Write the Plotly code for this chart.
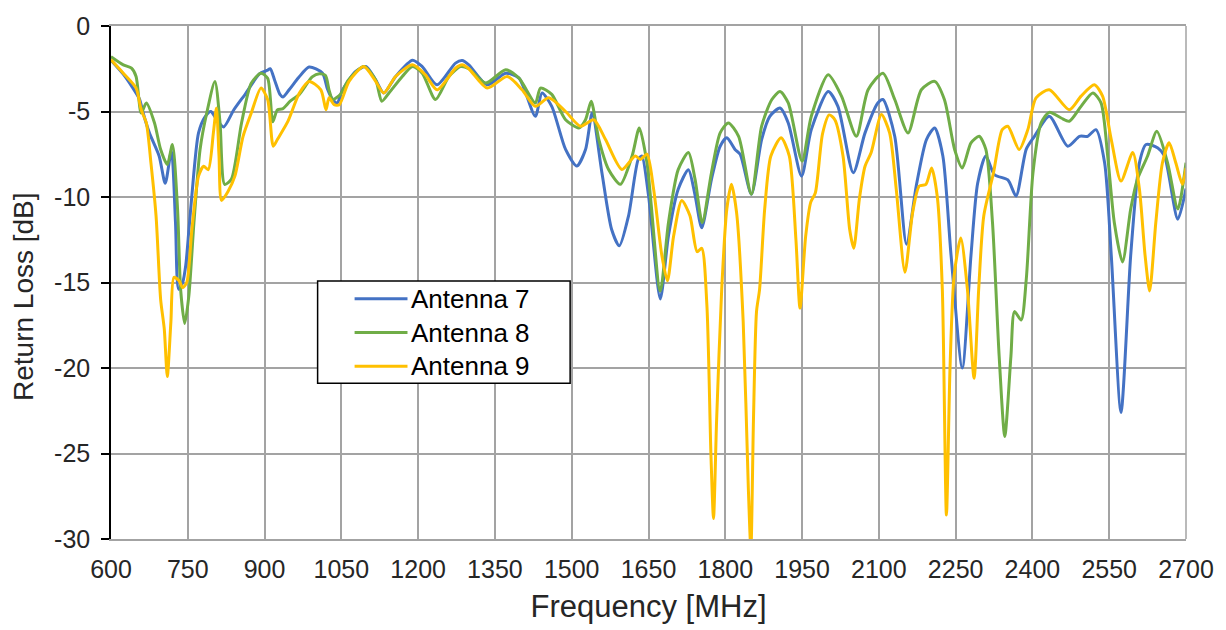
import plotly.graph_objects as go

# ---------------- data ----------------
series_names = ["Antenna 7", "Antenna 8", "Antenna 9"]
series_colors = ["#4472C4", "#70AD47", "#FFC000"]

freq_ant7 = [600, 625, 640, 656, 662, 675, 694, 706, 718, 726, 732, 740, 746, 752, 758, 771, 784, 795, 805,
             820, 840, 863, 890, 905, 911, 920, 930, 936, 948, 967, 987, 1013, 1023, 1033, 1042, 1052,
             1078, 1098, 1117, 1133, 1156, 1189, 1208, 1237, 1273, 1286, 1299, 1335, 1371, 1397, 1429,
             1442, 1461, 1488, 1510, 1527, 1540, 1559, 1578, 1593, 1611, 1630, 1637, 1650, 1673, 1689,
             1708, 1728, 1741, 1754, 1773, 1790, 1803, 1819, 1829, 1851, 1871, 1887, 1907, 1923, 1949,
             1968, 2001, 2020, 2050, 2073, 2098, 2108, 2131, 2154, 2173, 2193, 2209, 2225, 2241, 2263,
             2280, 2293, 2309, 2326, 2352, 2368, 2388, 2404, 2433, 2469, 2492, 2508, 2524, 2541, 2554,
             2573, 2592, 2609, 2622, 2645, 2658, 2684, 2700]
rl_ant7 = [-2.0, -2.85, -3.5, -4.3, -5.0, -6.25, -7.6, -9.2, -7.3, -11.5, -15.4, -15.0, -14.0, -12.0, -9.9,
           -6.25, -5.3, -5.0, -5.4, -5.9, -4.9, -3.95, -2.8, -2.6, -2.5, -3.2, -4.0, -4.15, -3.73, -3.0,
           -2.4, -2.75, -3.7, -4.3, -4.5, -3.75, -2.66, -2.37, -3.15, -3.92, -2.95, -2.0, -2.37, -3.44,
           -2.17, -2.02, -2.27, -3.44, -2.76, -3.05, -5.28, -3.92, -4.7, -7.22, -8.19, -7.22, -5.09,
           -8.58, -11.9, -12.85, -11.1, -7.8, -7.6, -9.9, -15.96, -12.27, -9.55, -8.4, -9.9, -11.8,
           -8.97, -7.03, -6.54, -7.22, -7.5, -9.84, -6.64, -5.28, -4.8, -5.67, -8.78, -6.06, -3.83,
           -4.7, -8.58, -6.25, -4.5, -4.3, -6.45, -12.76, -9.36, -6.64, -5.96, -7.6, -13.4, -20.0,
           -13.4, -9.2, -7.6, -8.7, -9.0, -9.94, -7.2, -6.45, -5.28, -7.03, -6.45, -6.45, -6.06, -8.0,
           -13.4, -22.6, -13.4, -8.0, -6.93, -7.13, -7.6, -11.3, -9.5]

freq_ant8 = [600, 624, 640, 649, 659, 669, 685, 697, 710, 720, 730, 736, 744, 752, 762, 774, 787, 803, 813,
             822, 835, 855, 874, 893, 906, 916, 925, 935, 950, 968, 993, 1007, 1019, 1026, 1033, 1048,
             1064, 1094, 1117, 1129, 1143, 1169, 1189, 1208, 1234, 1260, 1283, 1299, 1332, 1371, 1397,
             1429, 1439, 1461, 1488, 1514, 1527, 1538, 1553, 1572, 1595, 1618, 1632, 1647, 1673, 1689,
             1708, 1728, 1741, 1755, 1773, 1790, 1806, 1826, 1851, 1871, 1891, 1907, 1923, 1950, 1968,
             2001, 2027, 2056, 2079, 2108, 2131, 2157, 2183, 2209, 2228, 2248, 2263, 2280, 2296, 2309,
             2322, 2335, 2346, 2358, 2365, 2378, 2388, 2401, 2417, 2433, 2456, 2472, 2495, 2518, 2534,
             2547, 2560, 2576, 2592, 2605, 2625, 2643, 2664, 2684, 2700]
rl_ant8 = [-1.79, -2.27, -2.47, -2.95, -5.09, -4.5, -5.67, -7.22, -8.1, -6.93, -10.7, -15.4, -17.4, -15.8,
           -11.5, -7.22, -5.09, -3.24, -5.67, -9.26, -8.97, -5.67, -3.34, -2.76, -3.05, -5.6, -4.9,
           -4.85, -4.4, -4.0, -2.98, -2.79, -2.9, -3.75, -4.3, -4.0, -3.15, -2.37, -3.15, -4.4, -3.92,
           -2.95, -2.37, -2.76, -4.3, -2.95, -2.37, -2.5, -3.34, -2.56, -3.05, -4.5, -3.63, -4.0,
           -5.48, -5.96, -5.48, -4.4, -6.64, -8.39, -9.26, -7.6, -5.96, -8.0, -15.5, -11.5, -8.4,
           -7.4, -8.97, -11.5, -8.58, -6.25, -5.67, -6.45, -9.84, -5.86, -4.3, -3.83, -4.5, -7.9,
           -5.28, -2.85, -4.1, -6.45, -3.73, -2.76, -4.3, -6.25, -3.73, -3.24, -4.3, -7.22, -8.3,
           -6.83, -6.45, -7.22, -11.5, -19.3, -24.0, -19.3, -16.7, -17.2, -14.8, -8.6, -5.67, -5.05,
           -5.38, -5.57, -4.7, -3.92, -4.5, -7.6, -11.5, -13.8, -10.7, -8.97, -7.6, -6.16, -8.0,
           -10.7, -8.0]

freq_ant9 = [600, 624, 649, 659, 669, 678, 688, 697, 704, 710, 717, 723, 733, 740, 748, 758, 771, 781, 790,
             800, 806, 811, 816, 829, 842, 858, 874, 893, 906, 917, 925, 946, 968, 987, 1010, 1020, 1026,
             1036, 1046, 1065, 1094, 1117, 1133, 1156, 1189, 1214, 1237, 1273, 1286, 1299, 1335, 1374,
             1403, 1429, 1455, 1488, 1517, 1543, 1566, 1598, 1624, 1634, 1647, 1660, 1676, 1687, 1699,
             1715, 1731, 1745, 1754, 1764, 1772, 1777, 1783, 1793, 1803, 1812, 1822, 1835, 1845, 1850,
             1855, 1861, 1867, 1877, 1889, 1909, 1925, 1938, 1946, 1957, 1967, 1976, 1990, 2003, 2014,
             2030, 2043, 2051, 2062, 2073, 2085, 2105, 2121, 2134, 2151, 2166, 2179, 2192, 2203, 2214,
             2224, 2232, 2239, 2247, 2260, 2273, 2286, 2295, 2305, 2324, 2341, 2352, 2374, 2391, 2407,
             2433, 2472, 2495, 2521, 2537, 2554, 2573, 2596, 2609, 2620, 2629, 2641, 2654, 2667, 2680,
             2693, 2700]
rl_ant9 = [-1.98, -2.76, -3.63, -4.9, -5.67, -8.0, -11.1, -16.0, -17.7, -20.5, -17.3, -14.7, -14.9, -15.3,
           -15.0, -11.9, -8.78, -8.2, -8.4, -6.25, -4.8, -7.6, -10.2, -9.65, -8.78, -6.45, -5.09, -3.63,
           -4.3, -7.03, -6.64, -5.55, -3.92, -3.24, -3.73, -4.9, -4.2, -4.6, -4.6, -3.24, -2.37, -3.24,
           -3.92, -2.95, -2.27, -2.85, -3.73, -2.47, -2.27, -2.5, -3.63, -2.95, -3.73, -4.7, -4.2,
           -5.0, -5.86, -5.48, -6.64, -8.39, -7.6, -7.8, -7.5, -9.55, -13.4, -14.9, -12.3, -10.2,
           -11.1, -13.2, -13.0, -16.3, -25.1, -28.8, -23.1, -15.4, -10.7, -9.26, -10.9, -17.3, -27.0,
           -30.6, -23.1, -16.7, -15.4, -10.7, -7.6, -6.54, -7.6, -12.5, -16.5, -12.3, -10.3, -9.75,
           -6.3, -5.2, -5.48, -7.6, -11.9, -13.0, -10.1, -8.2, -7.4, -5.18, -6.25, -9.55, -14.4, -10.9,
           -9.36, -9.26, -8.3, -9.94, -15.4, -28.6, -20.0, -14.6, -12.4, -15.4, -20.6, -15.4, -11.1,
           -8.58, -6.06, -5.86, -7.22, -6.06, -4.2, -3.73, -4.9, -4.1, -3.44, -4.1, -6.64, -9.07, -7.4,
           -9.55, -13.4, -15.5, -11.5, -8.0, -6.83, -8.0, -9.26, -8.3]

x_tick_vals = [600, 750, 900, 1050, 1200, 1350, 1500, 1650, 1800, 1950, 2100, 2250, 2400, 2550, 2700]
y_tick_vals = [0, -5, -10, -15, -20, -25, -30]
y_tick_text = ["0", "-5", "-10", "-15", "-20", "-25", "-30"]

x_title = "Frequency [MHz]"
y_title = "Return Loss [dB]"

# ---------------- figure ----------------
FONT = "Liberation Sans, Arial, sans-serif"
TEXT = "#262626"
GRID = "#a3a3a3"

fig = go.Figure()
all_freqs = [freq_ant7, freq_ant8, freq_ant9]
all_rl = [rl_ant7, rl_ant8, rl_ant9]
for name, color, fx, ry in zip(series_names, series_colors, all_freqs, all_rl):
    fig.add_trace(go.Scatter(
        x=fx, y=ry, mode="lines", name=name,
        line=dict(color=color, width=3, shape="spline", smoothing=0.7),
        showlegend=False,
    ))

fig.update_layout(
    width=1226, height=630,
    margin=dict(l=111, r=38, t=22, b=91),
    paper_bgcolor="white", plot_bgcolor="white",
    font=dict(family=FONT, color=TEXT, size=25),
    xaxis=dict(
        range=[600, 2700], tickmode="array", tickvals=x_tick_vals,
        showgrid=True, gridcolor=GRID, gridwidth=1.5,
        showline=True, linecolor=GRID, linewidth=1.5, mirror=True,
        ticks="", zeroline=False,
        tickfont=dict(size=25, family=FONT, color=TEXT),
        ticklabelstandoff=7,
        title=dict(text=x_title, font=dict(size=31, family=FONT, color=TEXT), standoff=14),
    ),
    yaxis=dict(
        range=[-30, 0], tickmode="array", tickvals=y_tick_vals, ticktext=y_tick_text,
        showgrid=True, gridcolor=GRID, gridwidth=1.5,
        showline=True, linecolor="#000000", linewidth=1.5,
        ticks="outside", ticklen=8, tickwidth=1.5, tickcolor="#000000",
        zeroline=False,
        tickfont=dict(size=25, family=FONT, color=TEXT),
        ticklabelstandoff=6,
    ),
)

# y-axis title, placed where the reference has it
fig.add_annotation(x=-0.0808, y=0.472, xref="paper", yref="paper", text=y_title, showarrow=False,
                   textangle=-90, xanchor="center", yanchor="middle",
                   font=dict(size=28, family=FONT, color=TEXT))

# right border line (gray), matching the gridline style
fig.add_shape(type="line", xref="paper", yref="paper", x0=1, x1=1, y0=0, y1=1,
              line=dict(color=GRID, width=1.5))

# ---------------- legend box (drawn in paper coordinates) ----------------
leg_x0, leg_x1, leg_y0, leg_y1 = 0.1922, 0.4271, 0.3037, 0.5029
fig.add_shape(type="rect", xref="paper", yref="paper", x0=leg_x0, x1=leg_x1, y0=leg_y0, y1=leg_y1,
              line=dict(color="#000000", width=1.5), fillcolor="white", layer="above")
row_y = [0.4681, 0.4023, 0.3366]
for name, color, yy in zip(series_names, series_colors, row_y):
    fig.add_shape(type="line", xref="paper", yref="paper", x0=0.2266, x1=0.2758, y0=yy, y1=yy,
                  line=dict(color=color, width=3), layer="above")
    fig.add_annotation(x=0.2768, y=yy, xref="paper", yref="paper", text=name, showarrow=False,
                       xanchor="left", yanchor="middle",
                       font=dict(size=26, family=FONT, color="#000000"))

fig.write_html("out.html")
